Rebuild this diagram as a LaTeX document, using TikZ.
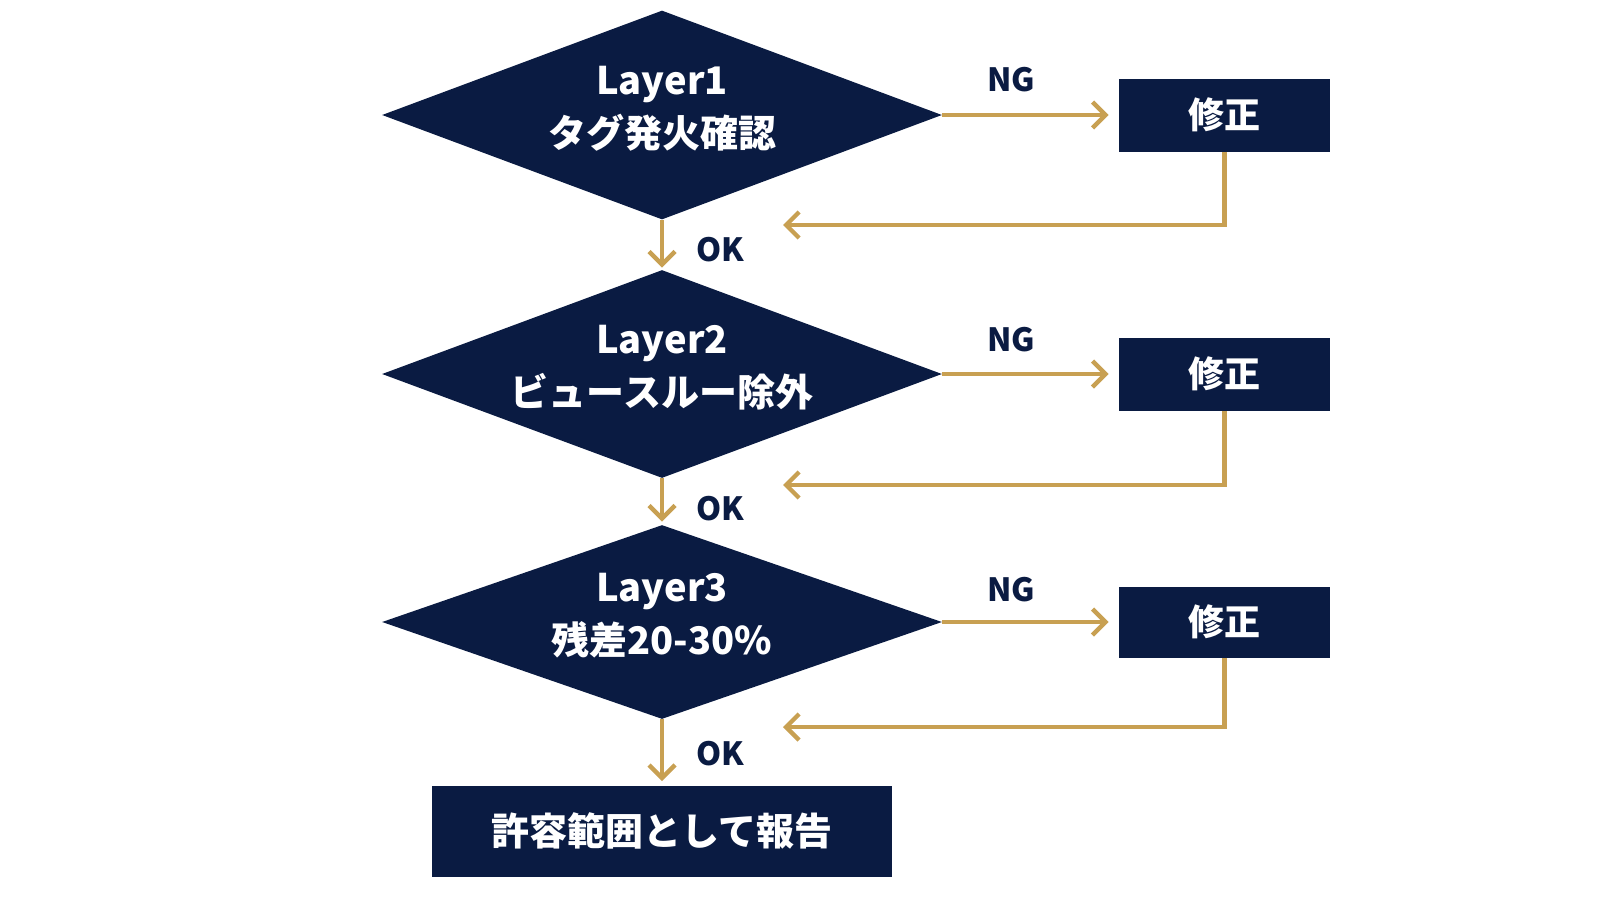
\documentclass[tikz,border=0pt]{standalone}
\usepackage{fontspec}
\setmainfont{Noto Sans CJK JP}
\usetikzlibrary{shapes.geometric,arrows.meta}
\definecolor{navy}{RGB}{10,27,66}
\definecolor{gold}{RGB}{200,160,82}

\begin{document}
\begin{tikzpicture}[x=0.5pt,y=-0.5pt,
  check/.style={diamond,aspect=2.7,fill=navy,text=white,inner xsep=-10pt,inner ysep=-4pt,minimum width=280pt,text depth=8pt,align=center,font=\bfseries\fontsize{19}{26.5}\selectfont},
  fixbox/.style={rectangle,fill=navy,text=white,minimum width=105.5pt,minimum height=36.5pt,font=\bfseries\fontsize{18}{20}\selectfont},
  flow/.style={draw=gold,line width=2.2pt,-{Straight Barb[length=6.5pt,width=13pt]}},
  tag/.style={text=navy,font=\bfseries\fontsize{16}{18}\selectfont}]
\useasboundingbox (0,0) rectangle (1600,900);
\path[fill=white] (0,0) rectangle (1600,900);
\node[check,minimum height=104.5pt] (d1) at (662,115) {Layer1\\タグ発火確認};
\node[check,minimum height=104pt] (d2) at (662,374) {Layer2\\ビュースルー除外};
\node[check,minimum height=97pt] (d3) at (662,622) {Layer3\\残差20-30\%};
\node[fixbox] (f1) at (1224.5,115) {修正};
\node[fixbox] (f2) at (1224.5,374) {修正};
\node[fixbox,minimum height=35.5pt] (f3) at (1224.5,622) {修正};
\node[fixbox,minimum width=230pt,minimum height=45.5pt,font=\bfseries\fontsize{19}{21}\selectfont] (report) at (662,831) {許容範囲として報告};
\coordinate (r1) at (783,225);
\coordinate (r2) at (783,485);
\coordinate (r3) at (783,727);
\draw[flow,shorten >=5pt] (d1.east) -- (f1.west);
\draw[flow,shorten >=5pt] (d2.east) -- (f2.west);
\draw[flow,shorten >=5pt] (d3.east) -- (f3.west);
\draw[flow] (f1.south) |- (r1);
\draw[flow] (f2.south) |- (r2);
\draw[flow] (f3.south) |- (r3);
\draw[flow,shorten >=1pt] (d1.south) -- (d2.north);
\draw[flow,shorten >=1.5pt] (d2.south) -- (d3.north);
\draw[flow,shorten >=2pt] (d3.south) -- (report.north);
\node[tag] (ng1) at (1011,80) {NG};
\node[tag] (ng2) at (1011,340) {NG};
\node[tag] (ng3) at (1011,590) {NG};
\node[tag] (ok1) at (720,250) {OK};
\node[tag] (ok2) at (720,509) {OK};
\node[tag] (ok3) at (720,754) {OK};
\end{tikzpicture}
\end{document}
